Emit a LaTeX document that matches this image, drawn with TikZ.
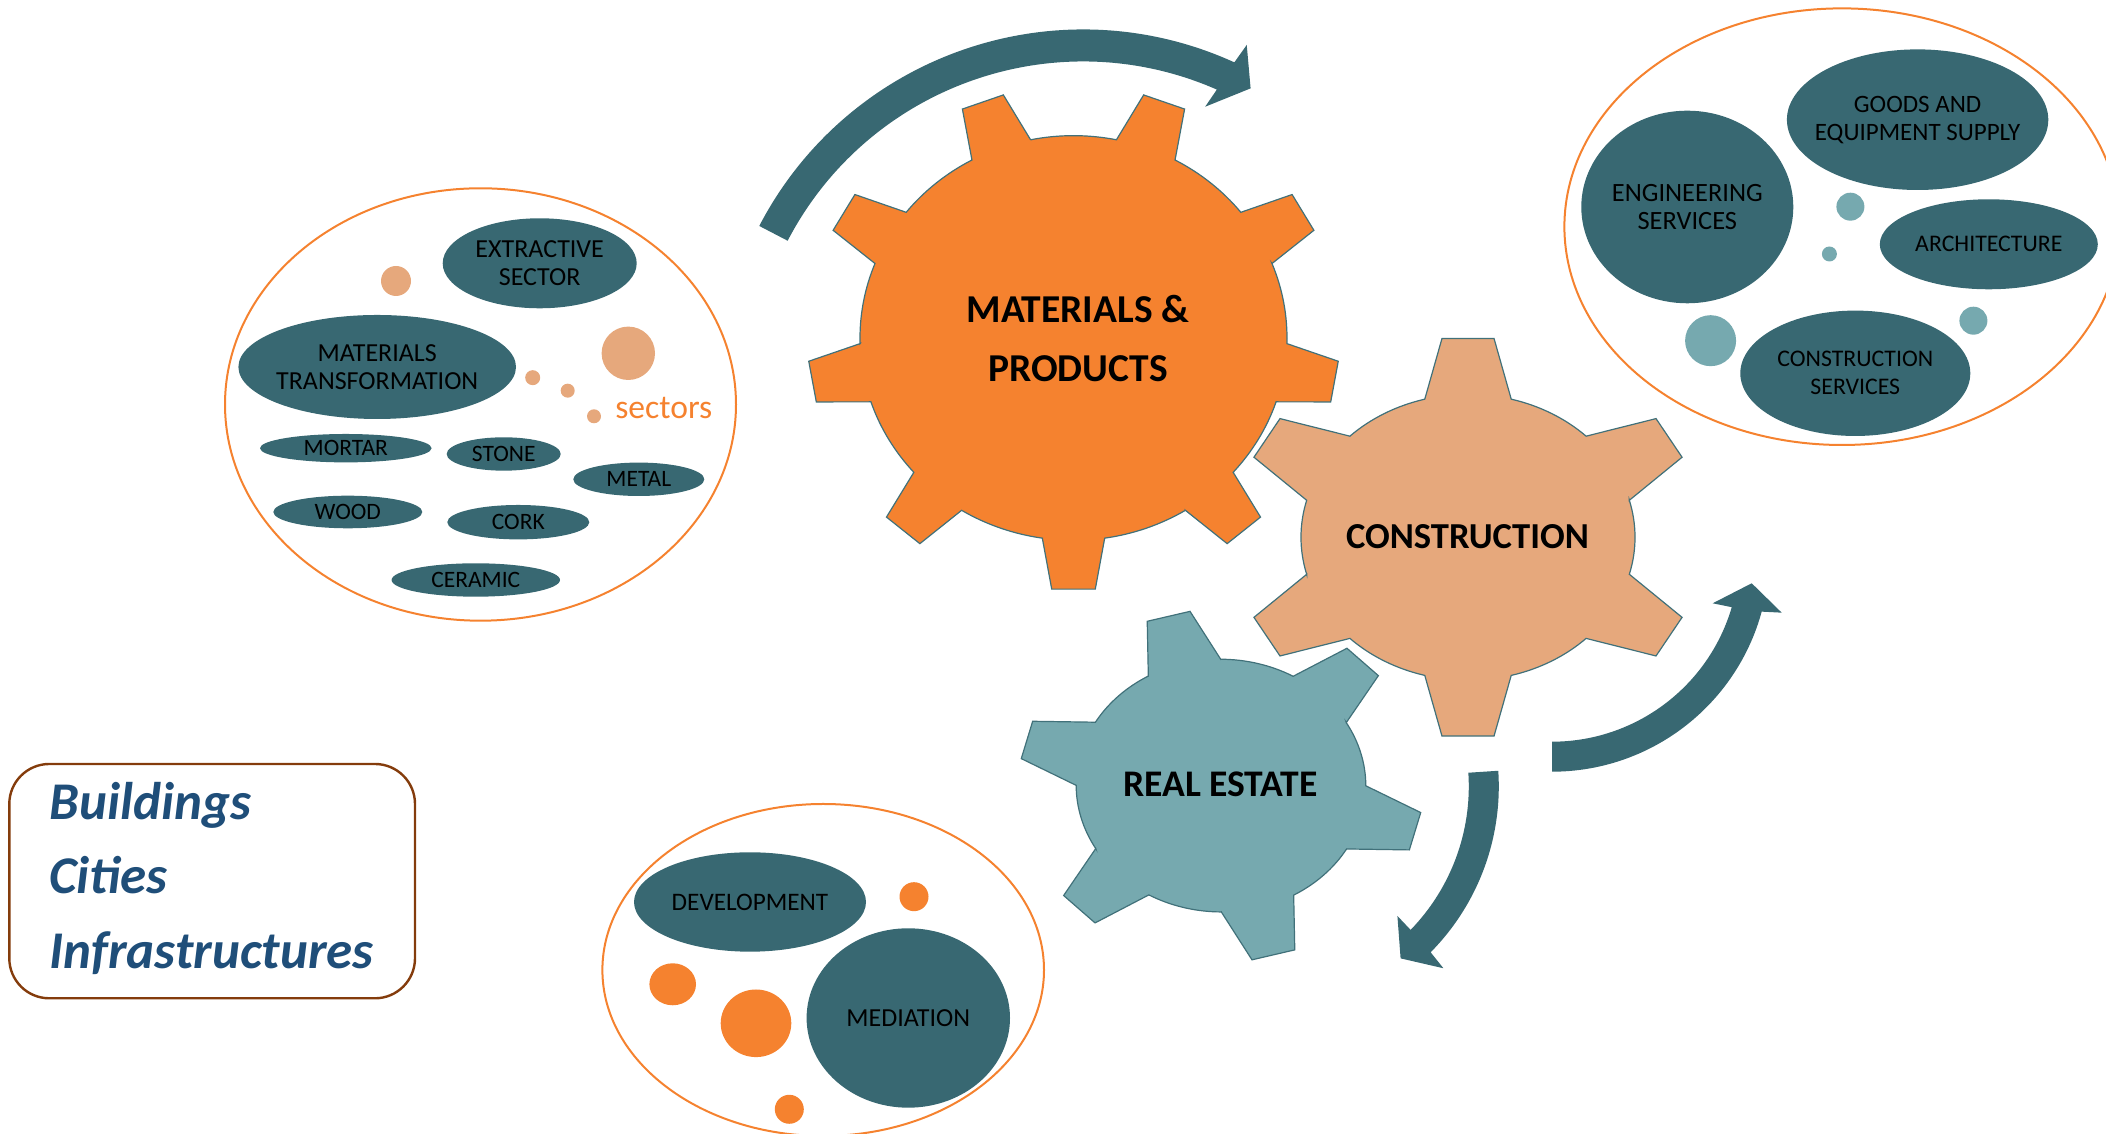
\documentclass[tikz,border=0pt]{standalone}
\usepackage{fontspec}
\setmainfont{Carlito}
\usepackage{tikz}
\usetikzlibrary{calc}
\definecolor{deep}{HTML}{386872}
\definecolor{flame}{HTML}{F5822F}
\definecolor{peach}{HTML}{E6A87C}
\definecolor{sea}{HTML}{76A9AF}
\definecolor{rust}{HTML}{843C0C}
\definecolor{navy}{HTML}{1F4E79}
\definecolor{rim}{HTML}{41717A}
\tikzset{
  ring/.style={draw=flame, line width=1pt},
  blob/.style={fill=deep},
  lbl/.style={text=black, align=center, font=\fontsize{#1}{14}\selectfont},
  lbl/.default=12.8,
  gear/.style={draw=rim, line width=0.6pt},
  gearlbl/.style={text=black, align=center, font=\bfseries\fontsize{#1}{29.5}\selectfont},
  gearlbl/.default=19.5,
  band/.style={fill=deep},
  frame/.style={draw=rust, line width=1.2pt, rounded corners=20pt},
  kind/.style={text=navy, anchor=base west, inner sep=0pt, font=\bfseries\itshape\fontsize{26.5}{30}\selectfont}
}

\begin{document}
\begin{tikzpicture}[x=0.5pt, y=0.5pt]
  \useasboundingbox (0,0) rectangle (2106,1134);
  \clip (0,0) rectangle (2106,1134);

  % sectors of materials
  \draw[ring] (480.5,729.5) ellipse [x radius=255.5, y radius=216.2];
  \fill[blob] (539.7,870.7) ellipse [x radius=97, y radius=45] node[lbl=13] (ext) {EXTRACTIVE\\SECTOR};
  \fill[blob] (377.2,767) ellipse [x radius=138.8, y radius=52] node[lbl=13] (mtr) {MATERIALS\\TRANSFORMATION};
  \fill[blob] (345.8,685.8) ellipse [x radius=85.8, y radius=14.2] node[lbl=11.75] (mor) {MORTAR};
  \fill[blob] (503.7,680) ellipse [x radius=57, y radius=16.7] node[lbl=11.75] (sto) {STONE};
  \fill[blob] (638.8,654.7) ellipse [x radius=65.5, y radius=16.7] node[lbl=11.75] (met) {METAL};
  \fill[blob] (347.8,622) ellipse [x radius=74.5, y radius=16.3] node[lbl=11.75] (woo) {WOOD};
  \fill[blob] (518.3,611.8) ellipse [x radius=71, y radius=17.2] node[lbl=11.75] (cor) {CORK};
  \fill[blob] (475.8,554) ellipse [x radius=84.2, y radius=16.7] node[lbl=11.75] (cer) {CERAMIC};
  \fill[peach] (396,853) circle [radius=15];
  \fill[peach] (628.3,780.7) circle [radius=26.7];
  \fill[peach] (532.7,756.3) circle [radius=7.5];
  \fill[peach] (567.7,743.3) circle [radius=7];
  \fill[peach] (594,717.7) circle [radius=7];
  \node[text=flame, anchor=base, inner sep=0pt, font=\fontsize{16.8}{20}\selectfont] (sec) at (663.8,715.7) {sectors};

  % construction services
  \draw[ring] (1842,907.3) ellipse [x radius=277.6, y radius=218.3];
  \fill[blob] (1687.3,927) ellipse [x radius=106, y radius=96.3] node[lbl=13.2] (eng) {ENGINEERING\\SERVICES};
  \fill[blob] (1917.6,1014.3) ellipse [x radius=130.7, y radius=70.3] node[lbl=12.5] (goo) {GOODS AND\\EQUIPMENT SUPPLY};
  \fill[blob] (1988.8,889.7) ellipse [x radius=109, y radius=45] node[lbl=11.9] (arch) {ARCHITECTURE};
  \fill[blob] (1855.3,760.7) ellipse [x radius=115, y radius=62.7] node[lbl=11.9] (csv) {CONSTRUCTION\\SERVICES};
  \fill[sea] (1850.4,927.3) circle [radius=14];
  \fill[sea] (1829.4,880) circle [radius=7.5];
  \fill[sea] (1710.6,793.3) circle [radius=25.5];
  \fill[sea] (1973.4,813.3) circle [radius=14];

  % real estate
  \draw[ring] (823.2,164) ellipse [x radius=220.8, y radius=166];
  \fill[blob] (750,232) ellipse [x radius=116, y radius=49.7] node[lbl=12.6] (dev) {DEVELOPMENT};
  \fill[blob] (908.3,116) ellipse [x radius=101.7, y radius=89.7] node[lbl=13] (med) {MEDIATION};
  \fill[flame] (914,237.3) circle [radius=14.5];
  \fill[flame] (672.7,149.7) ellipse [x radius=23.3, y radius=21];
  \fill[flame] (756,110.7) ellipse [x radius=35.3, y radius=33.8];
  \fill[flame] (789.3,24.7) circle [radius=14.5];

  % gears
  \begin{scope}[shift={(1073.5,796)}, xscale=265.9, yscale=252]
    \filldraw[gear, fill=flame] (-98.4:0.803)
      \foreach \a in {-90,-50,...,230} {
        -- ({\a-8.4}:0.803) -- ({\a-4.7}:1) -- ({\a+4.7}:1) -- ({\a+8.4}:0.803)
        arc[start angle=\a+8.4, end angle=\a+31.6, radius=0.803]
      } -- cycle;
  \end{scope}
  \begin{scope}[shift={(1468,596.7)}, xscale=233.6, yscale=200]
    \filldraw[gear, fill=peach] (15:0.715)
      \foreach \a in {30,90,...,330} {
        -- ({\a-15}:0.715) -- ({\a-6.4}:1) -- ({\a+6.4}:1) -- ({\a+15}:0.715)
        arc[start angle=\a+15, end angle=\a+45, radius=0.715]
      } -- cycle;
  \end{scope}
  \begin{scope}[cm={195,45.3,-52.7,170.3,(1221,348.4)}]
    \filldraw[gear, fill=sea] (75:0.717)
      \foreach \a in {90,150,...,390} {
        -- ({\a-15}:0.717) -- ({\a-6.3}:1) -- ({\a+6.3}:1) -- ({\a+15}:0.717)
        arc[start angle=\a+15, end angle=\a+45, radius=0.717]
      } -- cycle;
  \end{scope}
  \node[gearlbl=19.75] (mp) at (1078,795) {MATERIALS \&\\PRODUCTS};
  \node[gearlbl=18.3] (con) at (1467.5,597.3) {CONSTRUCTION};
  \node[gearlbl=18.8] (re) at (1220.3,349.3) {REAL ESTATE};

  % turning arrows
  \begin{scope}[shift={(1083,739.5)}]
    \fill[band] (152.5:365) arc[start angle=152.5, end angle=65.5, radius=365]
      -- (64.9:386) -- (61.3:349) -- (67:312.6) -- (66.3:333)
      arc[start angle=66.3, end angle=152.5, radius=333] -- cycle;
  \end{scope}
  \begin{scope}[shift={(1552,579.7)}]
    \fill[band] (-90:217.4) arc[start angle=-90, end angle=-15.3, radius=217.4]
      -- (-14.26:237) -- (-8.26:201.8) -- (-16.96:168) -- (-16.4:187.4)
      arc[start angle=-16.4, end angle=-90, radius=187.4] -- cycle;
  \end{scope}
  \begin{scope}[shift={(1262.8,347.6)}]
    \fill[band] (3.8:236) arc[start angle=3.8, end angle=-44.66, radius=236]
      -- (-45.2:256.3) -- (-51.3:220.4) -- (-43.9:186.8) -- (-44.16:206)
      arc[start angle=-44.16, end angle=3.8, radius=206] -- cycle;
  \end{scope}

  % built environment
  \draw[frame] (9.3,135.7) rectangle (415,370);
  \node[kind] (bld) at (49,314) {Buildings};
  \node[kind] (cit) at (49,240.7) {Cities};
  \node[kind] (inf) at (49,165.7) {Infrastructures};
\end{tikzpicture}
\end{document}
